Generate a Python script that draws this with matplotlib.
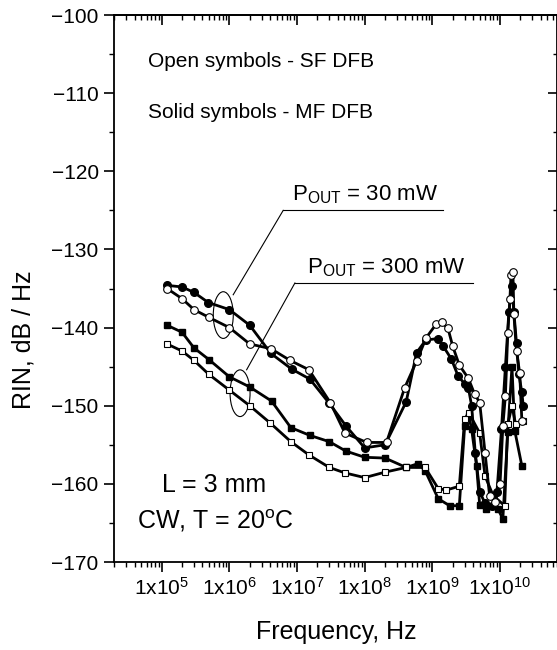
import matplotlib
matplotlib.use("Agg")
import matplotlib.pyplot as plt
from matplotlib.patches import Ellipse
from matplotlib.ticker import LogLocator, NullFormatter, FixedLocator, MultipleLocator

plt.rcParams['font.family'] = ['Liberation Sans', 'DejaVu Sans']
plt.rcParams['mathtext.default'] = 'regular'

# solid circles - MF DFB, 30 mW
mf_30_f = [1.2e5, 2.0e5, 3.0e5, 4.9e5, 1.0e6, 2.0e6, 4.1e6, 8.3e6, 1.55e7, 3.0e7, 5.3e7, 1.0e8, 2.0e8,
           4.1e8, 5.85e8, 8.0e8, 1.22e9, 1.45e9, 1.9e9, 2.4e9, 3.0e9, 3.4e9, 3.8e9, 4.3e9, 5.0e9, 6.0e9,
           7.5e9, 9.0e9, 1.05e10, 1.2e10, 1.35e10, 1.5e10, 1.6e10, 1.75e10, 1.9e10, 2.1e10, 2.2e10]
mf_30_db = [-134.6, -134.8, -135.5, -136.8, -137.7, -139.7, -143.3, -145.3, -146.6, -149.7, -152.6, -155.4, -155.0,
            -149.5, -143.2, -141.6, -141.4, -142.4, -144.0, -146.2, -147.2, -147.7, -150.0, -156.0, -161.0, -162.5,
            -162.8, -161.0, -153.0, -145.0, -138.0, -134.7, -138.0, -142.0, -146.0, -148.3, -150.0]

# open circles - SF DFB, 30 mW
sf_30_f = [1.2e5, 2.0e5, 3.0e5, 5.0e5, 1.0e6, 2.0e6, 4.1e6, 7.9e6, 1.5e7, 3.1e7, 5.1e7, 1.07e8, 2.1e8,
           3.9e8, 5.85e8, 8.1e8, 1.15e9, 1.37e9, 1.7e9, 2.0e9, 2.5e9, 3.4e9, 4.2e9, 5.0e9, 6.0e9, 7.0e9,
           8.5e9, 1.0e10, 1.1e10, 1.2e10, 1.3e10, 1.4e10, 1.45e10, 1.55e10, 1.6e10, 1.75e10, 1.95e10, 2.1e10]
sf_30_db = [-135.0, -136.3, -137.7, -138.7, -140.0, -142.1, -142.7, -144.2, -145.4, -149.6, -153.5, -154.7, -154.7,
            -147.7, -144.3, -141.3, -139.5, -139.3, -140.1, -142.4, -144.8, -146.5, -148.5, -149.6, -156.0, -161.5,
            -162.3, -160.0, -152.6, -148.7, -140.7, -136.3, -133.3, -132.9, -138.3, -143.0, -145.8, -151.9]

# solid squares - MF DFB, 300 mW
mf_300_f = [1.2e5, 2.0e5, 3.0e5, 5.0e5, 1.0e6, 2.0e6, 4.2e6, 8.1e6, 1.55e7, 3.0e7, 5.25e7, 1.0e8, 2.0e8,
            4.1e8, 6.2e8, 7.8e8, 1.22e9, 1.8e9, 2.5e9, 3.0e9, 3.45e9, 3.8e9, 4.5e9, 5.0e9, 6.3e9, 9.3e9,
            1.1e10, 1.3e10, 1.5e10, 1.65e10, 2.1e10]
mf_300_db = [-139.7, -140.6, -142.6, -144.1, -146.3, -147.6, -149.4, -152.8, -153.8, -154.6, -155.8, -156.6, -156.7,
             -157.9, -157.4, -158.3, -161.9, -162.8, -162.8, -152.6, -151.3, -153.0, -157.7, -162.7, -163.2, -163.2,
             -164.5, -153.4, -145.0, -153.2, -157.7]

# open squares - SF DFB, 300 mW
sf_300_f = [1.2e5, 2.0e5, 3.0e5, 5.0e5, 1.0e6, 2.0e6, 4.0e6, 8.1e6, 1.5e7, 3.0e7, 5.1e7, 1.0e8, 2.0e8,
            4.1e8, 7.8e8, 1.22e9, 1.6e9, 2.5e9, 3.0e9, 3.45e9, 5.0e9, 6.0e9, 7.9e9, 1.17e10, 1.3e10, 1.5e10,
            1.7e10, 2.2e10]
sf_300_db = [-142.1, -143.0, -144.2, -146.0, -148.0, -150.0, -152.2, -154.6, -156.3, -157.9, -158.6, -159.2, -158.5,
             -157.9, -157.9, -160.6, -160.8, -160.3, -151.7, -150.9, -153.5, -159.0, -161.5, -162.8, -152.4, -150.0,
             -152.4, -152.0]

major_ticks = [1e5, 1e6, 1e7, 1e8, 1e9, 1e10]
major_labels = [r'1x10$^{5}$', r'1x10$^{6}$', r'1x10$^{7}$', r'1x10$^{8}$', r'1x10$^{9}$', r'1x10$^{10}$']

fig = plt.figure(figsize=(5.57, 6.5), dpi=100)
ax = fig.add_axes([114 / 557, 1 - 562 / 650, 443.5 / 557, 547 / 650])

lw = 2.0
ax.plot(mf_300_f, mf_300_db, '-s', color='black', lw=lw, ms=5, mfc='black', mec='black')
ax.plot(sf_300_f, sf_300_db, '-s', color='black', lw=lw, ms=5, mfc='white', mec='black', mew=0.8)
ax.plot(mf_30_f, mf_30_db, '-o', color='black', lw=lw, ms=5.5, mfc='black', mec='black')
ax.plot(sf_30_f, sf_30_db, '-o', color='black', lw=lw, ms=5.5, mfc='white', mec='black', mew=0.8)

ax.set_xscale('log')
ax.set_xlim(1.975e4, 7.06e10)
ax.set_ylim(-170, -100)

# ticks: bottom/left outward, top/right inward
ax.xaxis.set_major_locator(FixedLocator(major_ticks))
ax.set_xticklabels(major_labels)
ax.xaxis.set_minor_locator(LogLocator(base=10, subs=range(2, 10), numticks=20))
ax.xaxis.set_minor_formatter(NullFormatter())
ax.yaxis.set_major_locator(MultipleLocator(10))
ax.yaxis.set_minor_locator(MultipleLocator(5))
ax.tick_params(which='major', direction='out', length=7, width=1.2, labelsize=15, pad=4)
ax.tick_params(which='minor', direction='out', length=3.5, width=1.0)

top = ax.secondary_xaxis('top')
top.xaxis.set_major_locator(FixedLocator(major_ticks))
top.xaxis.set_minor_locator(LogLocator(base=10, subs=range(2, 10), numticks=20))
top.xaxis.set_minor_formatter(NullFormatter())
top.tick_params(which='major', direction='in', length=7, width=1.2, labeltop=False)
top.tick_params(which='minor', direction='in', length=3.5, width=1.0)

right = ax.secondary_yaxis('right')
right.yaxis.set_major_locator(MultipleLocator(10))
right.yaxis.set_minor_locator(MultipleLocator(5))
right.tick_params(which='major', direction='in', length=7, width=1.2, labelright=False)
right.tick_params(which='minor', direction='in', length=3.5, width=1.0)

for s in ax.spines.values():
    s.set_linewidth(1.3)
top.spines['top'].set_linewidth(1.3)
right.spines['right'].set_linewidth(1.3)

ax.set_xlabel('Frequency, Hz', fontsize=18)
ax.set_ylabel('RIN, dB / Hz', fontsize=18)
ax.xaxis.set_label_coords(0.502, -0.106)
ax.yaxis.set_label_coords(-0.178, 0.406)

# text notes
ax.text(0.077, 0.915, 'Open symbols - SF DFB', transform=ax.transAxes, fontsize=15, va='center')
ax.text(0.077, 0.822, 'Solid symbols - MF DFB', transform=ax.transAxes, fontsize=15, va='center')
ax.text(0.108, 0.14, 'L = 3 mm', transform=ax.transAxes, fontsize=18, va='center')
ax.text(0.051, 0.075, r'CW, T = 20$^{o}$C', transform=ax.transAxes, fontsize=18, va='center')

# P_out labels with leader lines
ax.text(8.3e6, -123.7, r'P$_{OUT}$ = 30 mW', fontsize=16, va='baseline')
ax.plot([6.25e6, 1.45e9], [-125.0, -125.0], color='black', lw=0.8)
ax.plot([6.25e6, 1.14e6], [-125.0, -135.8], color='black', lw=0.8)
ax.text(1.39e7, -133.1, r'P$_{OUT}$ = 300 mW', fontsize=16, va='baseline')
ax.plot([9.3e6, 4.0e9], [-134.3, -134.3], color='black', lw=0.8)
ax.plot([9.3e6, 1.8e6], [-134.3, -145.4], color='black', lw=0.8)

# ellipses around the pairs of curves (size in axes units)
for cx, cy in [(8.13e5, -138.4), (1.44e6, -148.4)]:
    xa, ya = ax.transAxes.inverted().transform(ax.transData.transform((cx, cy)))
    e = Ellipse((xa, ya), width=20 / 443.5, height=46.7 / 547,
                transform=ax.transAxes, fill=False, edgecolor='black', lw=0.8)
    ax.add_patch(e)

fig.savefig('out.png', dpi=100)
